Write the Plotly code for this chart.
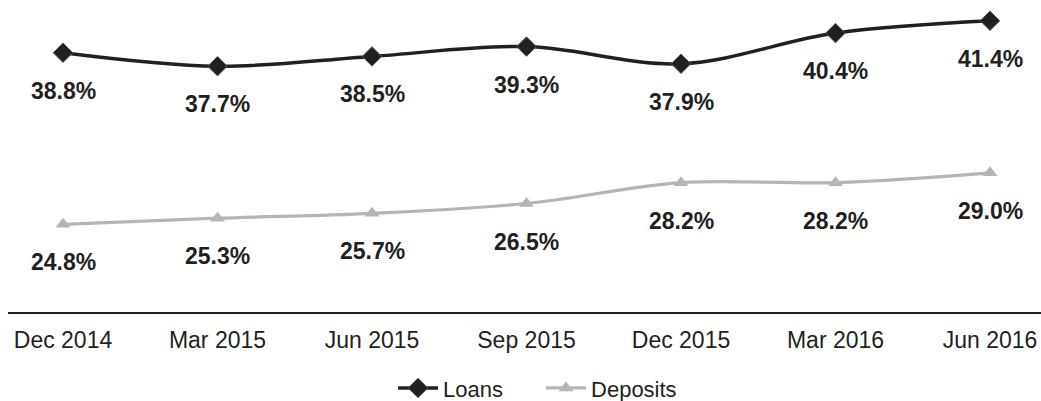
import plotly.graph_objects as go

categories = ["Dec 2014", "Mar 2015", "Jun 2015", "Sep 2015", "Dec 2015", "Mar 2016", "Jun 2016"]
loans = [38.8, 37.7, 38.5, 39.3, 37.9, 40.4, 41.4]
deposits = [24.8, 25.3, 25.7, 26.5, 28.2, 28.2, 29.0]

xs = list(range(len(categories)))
dark = "#231f20"
grey = "#b5b5b5"
font_fam = "Liberation Sans, Arial, sans-serif"

fig = go.Figure()
fig.add_trace(go.Scatter(
    x=xs, y=loans, name="Loans", mode="lines+markers",
    line=dict(color=dark, width=3.5, shape="spline", smoothing=1),
    marker=dict(symbol="diamond", size=15, color=dark, line=dict(color="#555", width=1)),
))
fig.add_trace(go.Scatter(
    x=xs, y=deposits, name="Deposits", mode="lines+markers",
    line=dict(color=grey, width=3.2, shape="spline", smoothing=1),
    marker=dict(symbol="triangle-up", size=13, color=grey),
))

for series in (loans, deposits):
    for xi, v in zip(xs, series):
        fig.add_annotation(x=xi, y=v, text=f"{v:.1f}%", showarrow=False,
                           yshift=-38, xanchor="center", yanchor="middle",
                           font=dict(family=font_fam, size=23, color=dark, weight="bold"))

fig.update_layout(
    width=1041, height=401,
    margin=dict(l=8, r=0, t=0, b=89, autoexpand=False),
    paper_bgcolor="white", plot_bgcolor="white",
    showlegend=True,
    legend=dict(orientation="h", x=0.516, xanchor="center", yref="container", y=0.032,
                yanchor="middle", font=dict(family=font_fam, size=22, color=dark),
                itemwidth=40, tracegroupgap=0, entrywidth=93),
    font=dict(family=font_fam, color=dark),
)
fig.update_xaxes(
    range=[-0.356, 6.33], tickmode="array", tickvals=xs, ticktext=categories,
    showgrid=False, zeroline=False, showline=True, linecolor=dark, linewidth=2,
    ticks="", tickfont=dict(family=font_fam, size=23, color=dark), ticklabelstandoff=6,
)
fig.update_yaxes(range=[17.65, 43.1], visible=False, showgrid=False, zeroline=False)

fig.write_html("out.html", config={"displayModeBar": False},
               post_script="document.body.style.margin='0';document.body.style.padding='0';document.body.style.overflow='hidden';")
